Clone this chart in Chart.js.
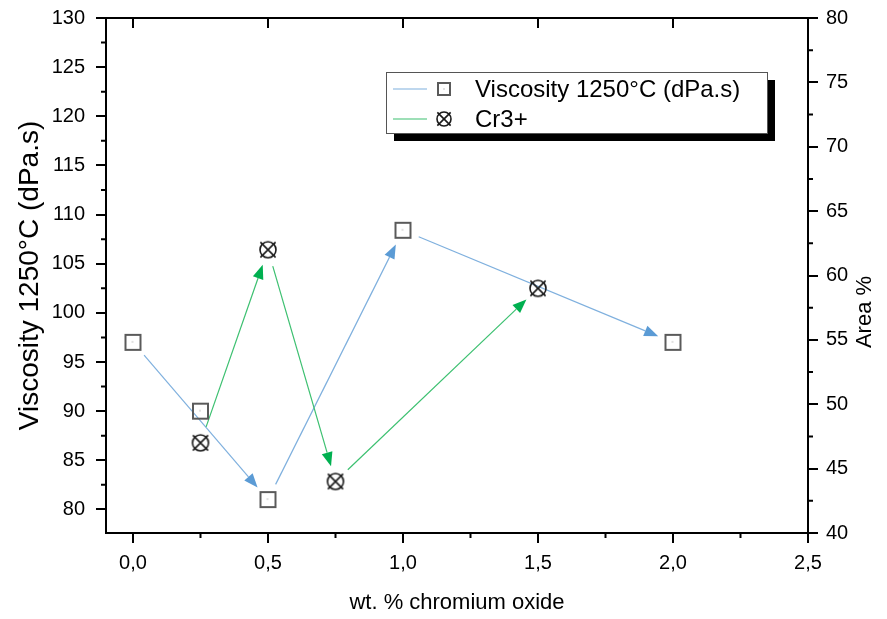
<!DOCTYPE html>
<html>
<head>
<meta charset="utf-8">
<script src="https://cdn.jsdelivr.net/npm/chart.js@4.4.0/dist/chart.umd.min.js"></script>
<style>
  html, body { margin: 0; padding: 0; background: #fff; }
</style>
</head>
<body>
<canvas id="chart" width="887" height="619"></canvas>
<script>
const FONT = "'Liberation Sans', Arial, sans-serif";

// viscosity series (left axis)
const visX = [0, 0.25, 0.5, 1.0, 2.0];
const visY = [97, 90, 81, 108.4, 97];
// Cr3+ series (right axis, area %)
const crX = [0.25, 0.5, 0.75, 1.5];
const crY = [47, 62, 44, 59];
// arrows: index pairs into the series above
const visArrows = [[0, 2], [2, 3], [3, 4]];
const crArrows = [[0, 1], [1, 2], [2, 3]];

const xTicks = [0, 0.5, 1.0, 1.5, 2.0, 2.5];
const yTicks = [80, 85, 90, 95, 100, 105, 110, 115, 120, 125, 130];
const y2Ticks = [40, 45, 50, 55, 60, 65, 70, 75, 80];

const visLabel = 'Viscosity 1250°C (dPa.s)';
const crLabel = 'Cr3+';

function squareMarker(size) {
  const c = document.createElement('canvas');
  c.width = c.height = size + 4;
  const g = c.getContext('2d');
  g.strokeStyle = '#5a5a5a';
  g.lineWidth = 2;
  g.strokeRect(2, 2, size, size);
  g.fillStyle = '#888';
  g.fillRect(Math.floor(c.width / 2) - 0.5, Math.floor(c.height / 2) - 0.5, 1, 1);
  return c;
}

function crossMarker(r) {
  const s = Math.ceil(r * 2 + 6);
  const c = document.createElement('canvas');
  c.width = c.height = s;
  const g = c.getContext('2d');
  const m = s / 2;
  g.strokeStyle = '#1a1a1a';
  g.lineWidth = 1.6;
  g.beginPath();
  g.arc(m, m, r, 0, Math.PI * 2);
  g.stroke();
  const d = r * 0.95;
  g.beginPath();
  g.moveTo(m - d, m - d); g.lineTo(m + d, m + d);
  g.moveTo(m + d, m - d); g.lineTo(m - d, m + d);
  g.stroke();
  return c;
}

const squareImg = squareMarker(15);
const crossImg = crossMarker(8);

function drawArrow(ctx, x1, y1, x2, y2, lineColor, headColor) {
  const dx = x2 - x1, dy = y2 - y1;
  const len = Math.hypot(dx, dy);
  const ux = dx / len, uy = dy / len;
  const sx = x1 + ux * 17, sy = y1 + uy * 17;
  const tx = x2 - ux * 16, ty = y2 - uy * 16;
  const hl = 14, hw = 5.5;
  const bx = tx - ux * hl, by = ty - uy * hl;
  ctx.strokeStyle = lineColor;
  ctx.lineWidth = 1.2;
  ctx.beginPath();
  ctx.moveTo(sx, sy);
  ctx.lineTo(bx, by);
  ctx.stroke();
  ctx.fillStyle = headColor;
  ctx.beginPath();
  ctx.moveTo(tx, ty);
  ctx.lineTo(bx - uy * hw, by + ux * hw);
  ctx.lineTo(bx + uy * hw, by - ux * hw);
  ctx.closePath();
  ctx.fill();
}

const arrowPlugin = {
  id: 'arrows',
  beforeDatasetsDraw(chart) {
    const { ctx, scales } = chart;
    ctx.save();
    visArrows.forEach(([a, b]) => {
      drawArrow(ctx,
        scales.x.getPixelForValue(visX[a]), scales.y.getPixelForValue(visY[a]),
        scales.x.getPixelForValue(visX[b]), scales.y.getPixelForValue(visY[b]),
        '#7fb0de', '#5b9bd5');
    });
    crArrows.forEach(([a, b]) => {
      drawArrow(ctx,
        scales.x.getPixelForValue(crX[a]), scales.y2.getPixelForValue(crY[a]),
        scales.x.getPixelForValue(crX[b]), scales.y2.getPixelForValue(crY[b]),
        '#3cc070', '#00b050');
    });
    ctx.restore();
  }
};

const framePlugin = {
  id: 'frame',
  afterDraw(chart) {
    const { ctx, chartArea: a, scales } = chart;
    ctx.save();
    ctx.strokeStyle = '#000';
    ctx.lineWidth = 2;
    ctx.beginPath();
    ctx.moveTo(a.left - 1, a.top);
    ctx.lineTo(a.right + 1, a.top);
    // top ticks, inward
    xTicks.forEach(v => {
      const x = scales.x.getPixelForValue(v);
      ctx.moveTo(x, a.top);
      ctx.lineTo(x, a.top + 10);
    });
    // minor ticks
    for (let v = 0.25; v < 2.5; v += 0.5) {
      const x = scales.x.getPixelForValue(v);
      ctx.moveTo(x, a.bottom);
      ctx.lineTo(x, a.bottom + 5);
    }
    for (let v = 82.5; v < 130; v += 5) {
      const y = scales.y.getPixelForValue(v);
      ctx.moveTo(a.left, y);
      ctx.lineTo(a.left - 5, y);
    }
    for (let v = 42.5; v < 80; v += 5) {
      const y = scales.y2.getPixelForValue(v);
      ctx.moveTo(a.right, y);
      ctx.lineTo(a.right + 5, y);
    }
    ctx.stroke();

    // right axis title, reading bottom to top
    ctx.fillStyle = '#000';
    ctx.font = '22px ' + FONT;
    ctx.textAlign = 'center';
    ctx.textBaseline = 'middle';
    ctx.translate(865, 312);
    ctx.rotate(-Math.PI / 2);
    ctx.fillText('Area %', 0, 0);
    ctx.restore();

    // legend box with hard shadow
    ctx.save();
    const lx = 386, ly = 72, lw = 381, lh = 61;
    ctx.fillStyle = '#000';
    ctx.fillRect(lx + 8, ly + 8, lw, lh);
    ctx.fillStyle = '#fff';
    ctx.fillRect(lx, ly, lw, lh);
    ctx.strokeStyle = '#555';
    ctx.lineWidth = 1;
    ctx.strokeRect(lx + 0.5, ly + 0.5, lw, lh);
    const rows = [
      { label: visLabel, color: '#7fb0de', img: squareMarker(12), y: ly + 17 },
      { label: crLabel, color: '#3cc070', img: crossMarker(7), y: ly + 47 }
    ];
    ctx.font = '24px ' + FONT;
    ctx.textAlign = 'left';
    ctx.textBaseline = 'middle';
    rows.forEach(r => {
      ctx.strokeStyle = r.color;
      ctx.lineWidth = 1.2;
      ctx.beginPath();
      ctx.moveTo(lx + 7, r.y);
      ctx.lineTo(lx + 41, r.y);
      ctx.stroke();
      ctx.drawImage(r.img, lx + 58 - r.img.width / 2, r.y - r.img.height / 2);
      ctx.fillStyle = '#000';
      ctx.fillText(r.label, lx + 89, r.y + 1);
    });
    ctx.restore();
  }
};

const tickFont = { family: FONT, size: 20 };
const gridOpts = { display: true, drawOnChartArea: false, drawTicks: true, tickLength: 10, color: '#000', lineWidth: 2 };
const borderOpts = { display: true, color: '#000', width: 2 };

// fixed axis sizes; label overhang is not allowed to push the plot area
function fixSide(width) {
  return s => {
    s.width = width;
    s.paddingTop = 0;
    s.paddingBottom = 0;
  };
}

new Chart(document.getElementById('chart'), {
  type: 'scatter',
  data: {
    datasets: [
      {
        label: visLabel,
        data: visX.map((x, i) => ({ x, y: visY[i] })),
        yAxisID: 'y',
        pointStyle: squareImg,
        showLine: false
      },
      {
        label: crLabel,
        data: crX.map((x, i) => ({ x, y: crY[i] })),
        yAxisID: 'y2',
        pointStyle: crossImg,
        showLine: false
      }
    ]
  },
  options: {
    responsive: false,
    animation: false,
    layout: { padding: { top: 18, left: 0, right: 0, bottom: 0 } },
    plugins: { legend: { display: false }, tooltip: { enabled: false } },
    scales: {
      x: {
        type: 'linear',
        min: -0.1,
        max: 2.5,
        afterBuildTicks: s => { s.ticks = xTicks.map(v => ({ value: v })); },
        afterFit: s => { s.height = 86; s.paddingLeft = 0; s.paddingRight = 0; },
        ticks: {
          color: '#000', font: tickFont, padding: 8, maxRotation: 0, autoSkip: false,
          callback: v => Number(v).toFixed(1).replace('.', ',')
        },
        grid: gridOpts,
        border: borderOpts,
        title: { display: true, text: 'wt. % chromium oxide', color: '#000', font: { family: FONT, size: 22 }, padding: { top: 0, bottom: 3 } }
      },
      y: {
        type: 'linear',
        position: 'left',
        min: 77.6,
        max: 130,
        afterBuildTicks: s => { s.ticks = yTicks.map(v => ({ value: v })); },
        afterFit: fixSide(106),
        ticks: { color: '#000', font: tickFont, padding: 11, autoSkip: false },
        grid: gridOpts,
        border: borderOpts,
        title: { display: true, text: visLabel, color: '#000', font: { family: FONT, size: 28 }, padding: { top: 13, bottom: 0 } }
      },
      y2: {
        type: 'linear',
        position: 'right',
        min: 40,
        max: 80,
        afterBuildTicks: s => { s.ticks = y2Ticks.map(v => ({ value: v })); },
        afterFit: fixSide(79),
        ticks: { color: '#000', font: tickFont, padding: 8, autoSkip: false },
        grid: gridOpts,
        border: borderOpts
      }
    }
  },
  plugins: [arrowPlugin, framePlugin]
});
</script>
</body>
</html>
